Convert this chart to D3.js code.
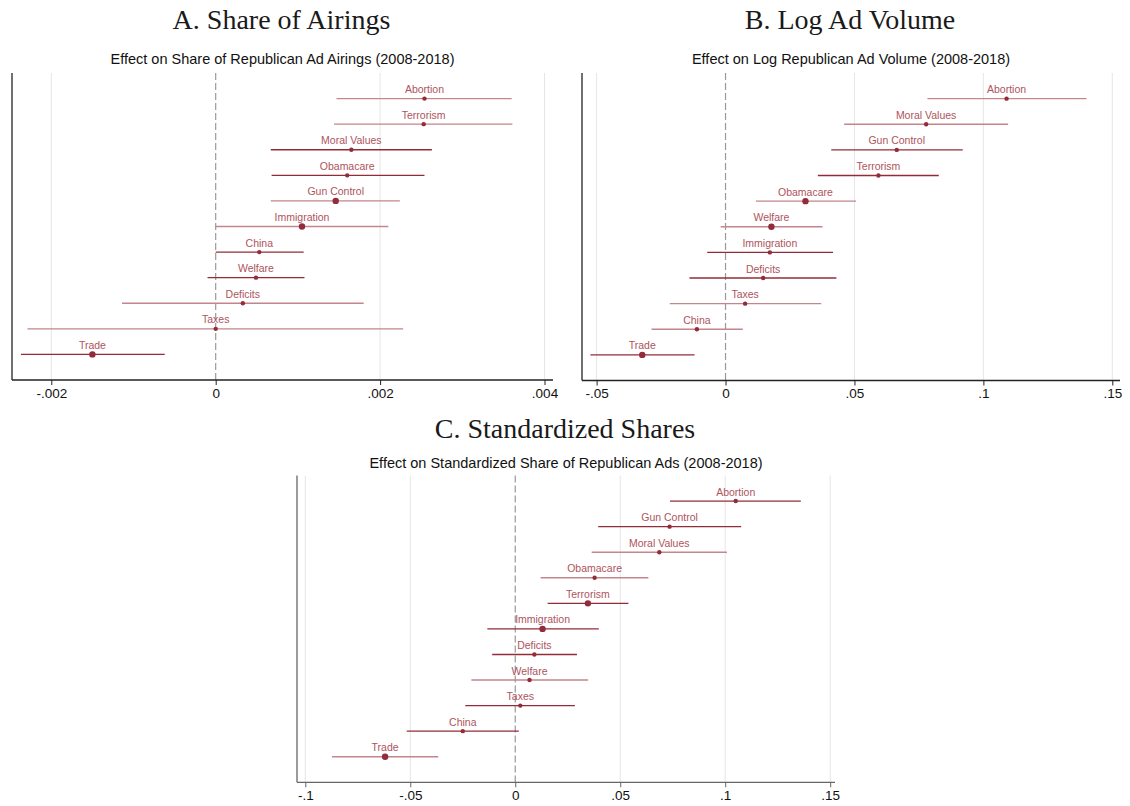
<!DOCTYPE html>
<html><head><meta charset="utf-8">
<script src="https://cdn.jsdelivr.net/npm/d3@7"></script>
<style>body{margin:0;background:#fff}</style>
</head><body><svg id="c" width="1130" height="806"></svg>
<script>
// Panel A: Share of Airings
const aTopics = ["Abortion","Terrorism","Moral Values","Obamacare","Gun Control","Immigration","China","Welfare","Deficits","Taxes","Trade"];
const aEst  = [0.00254,0.00253,0.00165,0.00160,0.00146,0.00105,0.00053,0.00049,0.00033,0.0,-0.00150];
const aLow  = [0.00147,0.00144,0.00067,0.00068,0.00067,0.0,0.0,-0.00010,-0.00114,-0.00229,-0.00237];
const aHigh = [0.00360,0.00361,0.00263,0.00254,0.00224,0.00210,0.00107,0.00108,0.00180,0.00228,-0.00062];
const aStrong = [0,0,1,1,0,0,1,1,0,0,1];
const aLarge  = [0,0,0,0,1,1,0,0,0,0,1];
const aTicks = [-0.002,0,0.002,0.004];
const aTickLabels = ["-.002","0",".002",".004"];

// Panel B: Log Ad Volume
const bTopics = ["Abortion","Moral Values","Gun Control","Terrorism","Obamacare","Welfare","Immigration","Deficits","Taxes","China","Trade"];
const bEst  = [0.109,0.0778,0.0664,0.0593,0.031,0.0178,0.0172,0.0146,0.0076,-0.0111,-0.0323];
const bLow  = [0.0783,0.046,0.041,0.0358,0.0118,-0.0019,-0.0071,-0.014,-0.0216,-0.0287,-0.0524];
const bHigh = [0.140,0.1096,0.092,0.0827,0.0506,0.0376,0.0417,0.043,0.0371,0.0067,-0.012];
const bStrong = [0,0,1,1,0,0,1,1,0,0,1];
const bLarge  = [0,0,0,0,1,1,0,0,0,0,1];
const bTicks = [-0.05,0,0.05,0.1,0.15];
const bTickLabels = ["-.05","0",".05",".1",".15"];

// Panel C: Standardized Shares
const cTopics = ["Abortion","Gun Control","Moral Values","Obamacare","Terrorism","Immigration","Deficits","Welfare","Taxes","China","Trade"];
const cEst  = [0.105,0.0735,0.0686,0.0378,0.0346,0.013,0.0091,0.0068,0.0024,-0.025,-0.062];
const cLow  = [0.0737,0.0395,0.0364,0.0121,0.0154,-0.0133,-0.011,-0.0209,-0.0238,-0.0517,-0.0873];
const cHigh = [0.136,0.1076,0.1008,0.0634,0.0539,0.0398,0.0294,0.0347,0.0284,0.0017,-0.0367];
const cStrong = [1,1,0,0,1,1,1,0,1,1,0];
const cLarge  = [0,0,0,0,1,1,0,0,0,0,1];
const cTicks = [-0.1,-0.05,0,0.05,0.1,0.15];
const cTickLabels = ["-.1","-.05","0",".05",".1",".15"];

const titles = ["A. Share of Airings","B. Log Ad Volume","C. Standardized Shares"];
const subtitles = ["Effect on Share of Republican Ad Airings (2008-2018)",
                   "Effect on Log Republican Ad Volume (2008-2018)",
                   "Effect on Standardized Share of Republican Ads (2008-2018)"];

const panels = [
  {topics:aTopics, est:aEst, low:aLow, high:aHigh, strong:aStrong, large:aLarge, ticks:aTicks, labels:aTickLabels,
   left:12, right:553, top:73, bottom:380, r0:51.3, r1:544.5, titleY:29, subY:64, axisCol:"#222"},
  {topics:bTopics, est:bEst, low:bLow, high:bHigh, strong:bStrong, large:bLarge, ticks:bTicks, labels:bTickLabels,
   left:582, right:1120, top:73, bottom:380.5, r0:596.6, r1:1112.3, titleY:29, subY:64, axisCol:"#222"},
  {topics:cTopics, est:cEst, low:cLow, high:cHigh, strong:cStrong, large:cLarge, ticks:cTicks, labels:cTickLabels,
   left:297, right:835, top:475.5, bottom:782.3, r0:305.3, r1:830.2, titleY:438, subY:468, axisCol:"#666"}
];
panels.forEach((p,i)=>{p.title=titles[i]; p.sub=subtitles[i];});

const svg = d3.select("#c");
const dark = "#932c3a";
const lightLine = "#c2868c";
const labelCol = "#ae545d";

panels.forEach(p=>{
  const g = svg.append("g");
  const x = d3.scaleLinear().domain([p.ticks[0], p.ticks[p.ticks.length-1]]).range([p.r0,p.r1]);
  const y = d3.scaleLinear().domain([0,12]).range([p.top,p.bottom]);
  const cx = (p.left+p.right)/2;

  g.append("text").attr("x",cx-1).attr("y",p.titleY).attr("text-anchor","middle")
    .attr("font-family","'Liberation Serif','DejaVu Serif',serif").attr("font-size",28).attr("fill","#1a1a1a").text(p.title);
  g.append("text").attr("x",cx).attr("y",p.subY).attr("text-anchor","middle")
    .attr("font-family","'Liberation Sans',Arial,sans-serif").attr("font-size",14.5).attr("fill","#111").text(p.sub);

  // gridlines
  g.selectAll(".grid").data(p.ticks.filter(t=>t!==0)).join("line")
    .attr("x1",d=>x(d)).attr("x2",d=>x(d)).attr("y1",p.top).attr("y2",p.bottom)
    .attr("stroke","#e6e6e6").attr("stroke-width",1);
  // zero line
  g.append("line").attr("x1",x(0)).attr("x2",x(0)).attr("y1",p.top).attr("y2",p.bottom)
    .attr("stroke","#999").attr("stroke-width",1.2).attr("stroke-dasharray","7,3");

  // axes
  const ax = g.append("g").attr("transform",`translate(0,${p.bottom})`)
    .call(d3.axisBottom(x).tickValues(p.ticks).tickFormat((d,i)=>p.labels[i]).tickSize(5).tickSizeOuter(0).tickPadding(3));
  ax.select(".domain").remove();
  ax.selectAll(".tick line").attr("stroke",p.axisCol);
  ax.selectAll(".tick text").attr("font-family","'Liberation Sans',Arial,sans-serif").attr("font-size",13.5).attr("fill","#111");
  g.append("line").attr("x1",p.left).attr("x2",p.right).attr("y1",p.bottom).attr("y2",p.bottom)
    .attr("stroke",p.axisCol).attr("stroke-width",1.3);
  g.append("line").attr("x1",p.left).attr("x2",p.left).attr("y1",p.top).attr("y2",p.bottom)
    .attr("stroke",p.axisCol).attr("stroke-width",1.3);

  const rows = p.topics.map((t,i)=>({t, est:p.est[i], lo:p.low[i], hi:p.high[i], s:p.strong[i], l:p.large[i], i}));
  g.selectAll(".ci").data(rows).join("line")
    .attr("x1",d=>x(d.lo)).attr("x2",d=>x(d.hi)).attr("y1",d=>y(d.i+1)).attr("y2",d=>y(d.i+1))
    .attr("stroke",d=>d.s?dark:lightLine).attr("stroke-width",1.35);
  g.selectAll(".pt").data(rows).join("circle")
    .attr("cx",d=>x(d.est)).attr("cy",d=>y(d.i+1)).attr("r",d=>d.l?3.2:2.2).attr("fill",dark);
  g.selectAll(".lab").data(rows).join("text")
    .attr("x",d=>x(d.est)).attr("y",d=>y(d.i+1)-5.5).attr("text-anchor","middle")
    .attr("font-family","'Liberation Sans',Arial,sans-serif").attr("font-size",10.5).attr("fill",labelCol).text(d=>d.t);
});
</script></body></html>
